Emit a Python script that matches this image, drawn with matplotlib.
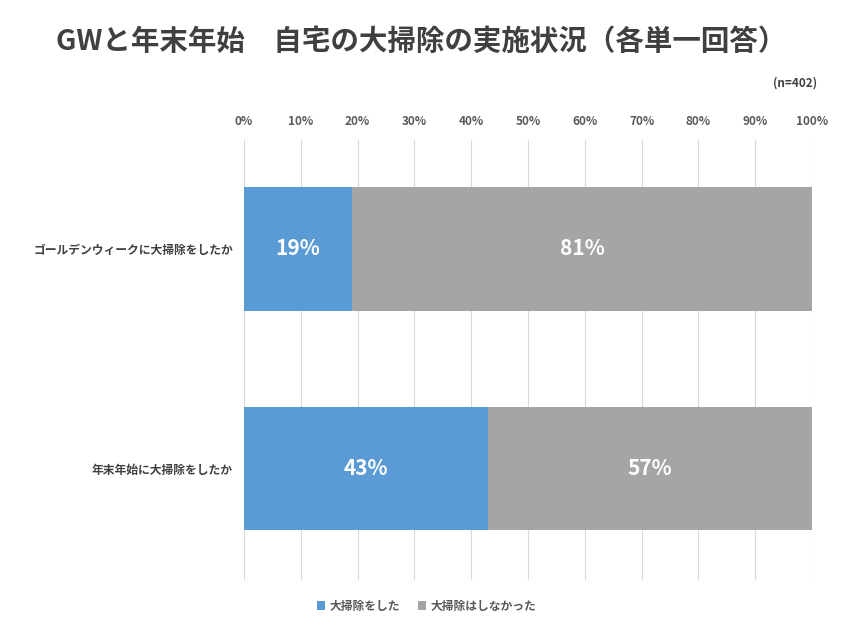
import matplotlib
matplotlib.use("Agg")
import matplotlib.pyplot as plt

plt.rcParams['font.family'] = 'Noto Sans CJK JP'

categories = ["ゴールデンウィークに大掃除をしたか", "年末年始に大掃除をしたか"]
did = [19, 43]
did_not = [81, 57]
series_names = ["大掃除をした", "大掃除はしなかった"]
ticks = [0, 10, 20, 30, 40, 50, 60, 70, 80, 90, 100]
colors = ["#5B9BD5", "#A5A5A5"]

fig = plt.figure(figsize=(8.53, 6.4), dpi=100)
ax = fig.add_axes([0.286, 0.094, 0.666, 0.687])
y = list(range(len(categories)))
ax.barh(y, did, height=0.56, color=colors[0], label=series_names[0], zorder=3)
ax.barh(y, did_not, left=did, height=0.56, color=colors[1], label=series_names[1], zorder=3)
for i in y:
    ax.text(did[i] / 2, i, f"{did[i]}%", ha='center', va='center', color='white', fontsize=15, fontweight='bold', zorder=4)
    ax.text(did[i] + did_not[i] / 2, i, f"{did_not[i]}%", ha='center', va='center', color='white', fontsize=15, fontweight='bold', zorder=4)
ax.set_xlim(0, 100)
ax.set_ylim(1.505, -0.495)
ax.set_xticks(ticks)
ax.set_xticklabels([f"{t}%" for t in ticks])
ax.xaxis.tick_top()
ax.tick_params(axis='x', length=0, labelsize=8.5, labelcolor='#595959', pad=9)
ax.set_yticks(y)
ax.set_yticklabels(categories)
ax.tick_params(axis='y', length=0, labelsize=8.5, labelcolor='#404040', pad=8)
for lab in ax.get_xticklabels() + ax.get_yticklabels():
    lab.set_fontweight('bold')
ax.grid(axis='x', color='#D9D9D9', linewidth=0.8, zorder=0)
for s in ax.spines.values():
    s.set_visible(False)

fig.text(0.494, 0.935, "GWと年末年始　自宅の大掃除の実施状況（各単一回答）", ha='center', va='center',
         fontsize=20.5, fontweight='bold', color='#404040')
fig.text(0.958, 0.87, "(n=402)", ha='right', va='center', fontsize=8.5, fontweight='bold', color='#404040')
leg = fig.legend(loc='center', bbox_to_anchor=(0.5, 0.053), ncol=2, frameon=False,
                 fontsize=8.5, handlelength=0.7, handleheight=0.7, columnspacing=1.5, handletextpad=0.4)
for t in leg.get_texts():
    t.set_color('#595959'); t.set_fontweight('bold')
fig.savefig("out.png", dpi=100)
